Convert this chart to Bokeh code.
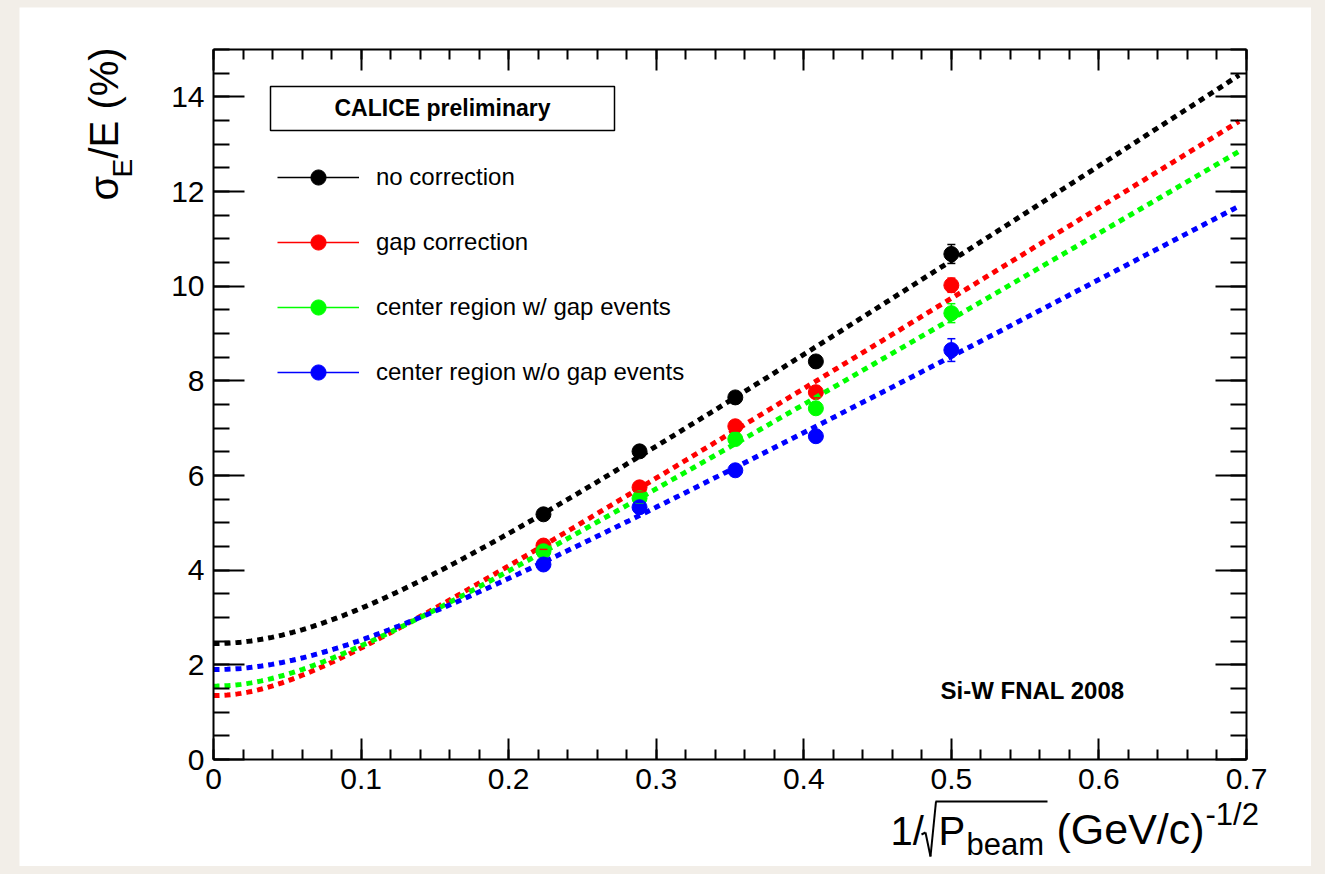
import numpy as np
from bokeh.plotting import figure
from bokeh.models import (Range1d, FixedTicker, LinearAxis, Label, Legend, LegendItem,
                          BoxAnnotation, Whisker, ColumnDataSource, CustomJSTickFormatter,
                          TeeHead, Column, Arrow)
from bokeh.embed import file_html
from bokeh.resources import INLINE

# ---------------- data ----------------
x_vals = [0.2236, 0.2887, 0.3536, 0.4082, 0.5]          # 1/sqrt(P_beam)
series_names = ["no correction", "gap correction",
                "center region w/ gap events", "center region w/o gap events"]
series_colors = ["#000000", "#ff0000", "#00ff00", "#0000ff"]
y_no_corr = [5.18, 6.51, 7.65, 8.41, 10.68]
y_gap_corr = [4.52, 5.75, 7.04, 7.76, 10.02]
y_center_gap = [4.40, 5.52, 6.77, 7.42, 9.43]
y_center_nogap = [4.12, 5.33, 6.11, 6.83, 8.65]
err_no_corr = [0.08, 0.10, 0.10, 0.12, 0.20]
err_gap_corr = [0.08, 0.10, 0.10, 0.12, 0.15]
err_center_gap = [0.08, 0.10, 0.10, 0.12, 0.20]
err_center_nogap = [0.08, 0.10, 0.10, 0.12, 0.24]
# fit: sigma/E = a/sqrt(P) (+) b
fit_stochastic = [20.5, 19.3, 18.35, 16.6]
fit_constant = [2.45, 1.35, 1.55, 1.9]

x_ticks = [0, 0.1, 0.2, 0.3, 0.4, 0.5, 0.6, 0.7]
x_tick_labels = ["0", "0.1", "0.2", "0.3", "0.4", "0.5", "0.6", "0.7"]
y_ticks = [0, 2, 4, 6, 8, 10, 12, 14]
y_tick_labels = ["0", "2", "4", "6", "8", "10", "12", "14"]

ys = [y_no_corr, y_gap_corr, y_center_gap, y_center_nogap]
errs = [err_no_corr, err_gap_corr, err_center_gap, err_center_nogap]

FONT = "Liberation Sans"
X0, X1, Y0, Y1 = 0.0, 0.7, 0.0, 15.0
FL, FR, FT, FB = 213, 1246, 49, 759   # axes box in page pixels
PL, PR, PT, PB = 19, 1311, 7, 866     # white panel in page pixels


def dx(px):
    return X0 + (px - FL) / (FR - FL) * (X1 - X0)


def dy(py):
    return Y0 + (FB - py) / (FB - FT) * (Y1 - Y0)


p = figure(width=PR - PL, height=PB - PT,
           x_range=Range1d(dx(PL), dx(PR)), y_range=Range1d(dy(PB), dy(PT)),
           output_backend="svg", toolbar_location=None,
           min_border_left=0, min_border_right=0, min_border_top=0, min_border_bottom=0)
p.background_fill_color = "white"
p.border_fill_color = "white"
p.outline_line_color = None
p.xgrid.visible = False
p.ygrid.visible = False

x_minor = list(np.arange(0, 0.7001, 0.02))
y_minor = list(np.arange(0, 15.01, 0.5))

xa = p.xaxis[0]
xa.ticker = FixedTicker(ticks=x_ticks, minor_ticks=x_minor)
xa.major_label_overrides = {t: l for t, l in zip(x_ticks, x_tick_labels)}
xa.fixed_location = Y0
xa.bounds = (X0, X1)
ya = p.yaxis[0]
ya.ticker = FixedTicker(ticks=y_ticks, minor_ticks=y_minor)
ya.major_label_overrides = {t: l for t, l in zip(y_ticks, y_tick_labels)}
ya.fixed_location = X0
ya.bounds = (Y0, Y1)

blank = CustomJSTickFormatter(code="return ''")
top = LinearAxis(ticker=FixedTicker(ticks=x_ticks, minor_ticks=x_minor), formatter=blank,
                 fixed_location=Y1, bounds=(X0, X1))
right = LinearAxis(ticker=FixedTicker(ticks=y_ticks, minor_ticks=y_minor), formatter=blank,
                   fixed_location=X1, bounds=(Y0, Y1))
p.add_layout(top, "above")
p.add_layout(right, "right")

for ax, maj, mnr in [(xa, 21, 10), (ya, 31, 16), (top, 21, 10), (right, 31, 16)]:
    ax.axis_line_width = 2
    ax.axis_line_color = "black"
    ax.major_tick_line_width = 2
    ax.minor_tick_line_width = 2
    ax.major_tick_in = maj
    ax.major_tick_out = 0
    ax.minor_tick_in = mnr
    ax.minor_tick_out = 0
    ax.major_label_text_font = FONT
    ax.major_label_text_font_size = "30px"
    ax.major_label_text_color = "black"
    ax.major_label_standoff = 9

# ---------------- data marks ----------------
x_fit = np.linspace(0.0, 0.695, 300)
legend_items = []
for name, col, yv, ev, a, b in zip(series_names, series_colors, ys, errs,
                                   fit_stochastic, fit_constant):
    src = ColumnDataSource(dict(x=x_vals, y=yv,
                                lo=[v - e for v, e in zip(yv, ev)],
                                hi=[v + e for v, e in zip(yv, ev)]))
    bars = p.segment(x0="x", y0="lo", x1="x", y1="hi", source=src,
                     line_color=col, line_width=1.5)
    caps = Whisker(base="x", lower="lo", upper="hi", source=src, dimension="height",
                   line_alpha=0, level="glyph",
                   lower_head=TeeHead(size=8, line_color=col, line_width=1.5),
                   upper_head=TeeHead(size=8, line_color=col, line_width=1.5))
    p.add_layout(caps)
    sc = p.scatter("x", "y", source=src, size=15, marker="circle",
                   fill_color=col, line_color=col)
    y_fit = np.sqrt((a * x_fit) ** 2 + b ** 2)
    p.line(x_fit, y_fit, line_color=col, line_width=5, line_dash="6 5")
    legend_items.append(LegendItem(label=name, renderers=[bars, sc]))

n_items = len(legend_items)
item_h, item_gap = 38, 27
legend_h = n_items * item_h + (n_items - 1) * item_gap
legend = Legend(items=legend_items, location=(277 - PL, PB - (158 + legend_h)),
                glyph_width=82, glyph_height=item_h, label_height=item_h, spacing=item_gap,
                label_standoff=17, padding=0, margin=0,
                label_text_font=FONT, label_text_font_size="24px",
                label_text_color="black",
                border_line_color=None, background_fill_alpha=0)
p.add_layout(legend)


# ---------------- annotations ----------------
def text_at(txt, px, base_py, size, font=FONT, bold=False, align="left"):
    # place text so that its alphabetic baseline sits at page pixel row base_py
    p.add_layout(Label(x=dx(px), y=dy(base_py - 0.35 * size), text=txt, text_font=font,
                       text_font_size=f"{size}px", text_align=align,
                       text_font_style="bold" if bold else "normal",
                       text_baseline="middle", text_color="black"))


def vtext_at(txt, base_px, py, size):
    # rotated text reading upwards, baseline at page pixel column base_px
    p.add_layout(Label(x=dx(base_px - 0.35 * size), y=dy(py), text=txt, text_font=FONT,
                       text_font_size=f"{size}px", text_align="left", angle=np.pi / 2,
                       text_baseline="middle", text_color="black"))


def stroke(x0, y0, x1, y1, width=2):
    p.add_layout(Arrow(x_start=dx(x0), y_start=dy(y0), x_end=dx(x1), y_end=dy(y1),
                       start=None, end=None, line_color="black", line_width=width))


p.add_layout(BoxAnnotation(left=dx(270), right=dx(614), top=dy(86), bottom=dy(130),
                           fill_color="white", fill_alpha=1, line_color="black",
                           line_alpha=1, line_width=1.5, level="annotation"))
text_at("CALICE preliminary", 442, 116, 23, bold=True, align="center")
text_at("Si-W FNAL 2008", 940, 698, 24, bold=True)

# x axis title: 1/sqrt(P_beam) (GeV/c)^-1/2  (radical sign drawn as strokes)
text_at("1/", 890, 844, 40)
stroke(921, 834, 925, 832)
stroke(925, 832, 930, 856)
stroke(930, 856, 935.5, 801)
stroke(935, 801, 1047, 801)
text_at("P", 938, 844, 40)
text_at("beam", 966, 855, 31)
text_at("(GeV/c)", 1056, 844, 43)
text_at("-1/2", 1205, 825, 31)

# y axis title: sigma_E/E (%)
vtext_at("\u03c3", 117, 200, 40)
vtext_at("E", 132, 177, 28)
vtext_at("/E (%)", 117, 158, 40)

page = Column(p, styles={"background-color": "#f2eee8", "padding": "7px 14px 8px 19px"})
open("out.html", "w").write(file_html(page, INLINE))
